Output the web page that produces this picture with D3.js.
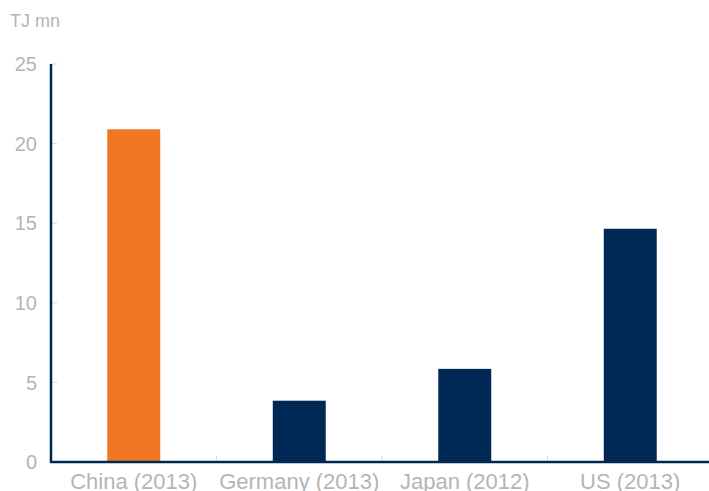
<!DOCTYPE html>
<html>
<head>
<meta charset="utf-8">
<script src="https://cdn.jsdelivr.net/npm/d3@7"></script>
<style>
  body { margin: 0; background: #fff; }
  text { font-family: "Liberation Sans", Arial, sans-serif; fill: #b5b5b5; }
</style>
</head>
<body>
<div id="chart"></div>
<script>
const categories = ['China (2013)', 'Germany (2013)', 'Japan (2012)', 'US (2013)'];
const values = [20.9, 3.85, 5.85, 14.65];
const yTicks = [0, 5, 10, 15, 20, 25];
const barColors = ['#ef7622', '#002855', '#002855', '#002855'];

const width = 709;
const height = 491;
const margin = {top: 64, right: -4, bottom: 29, left: 51};

const svg = d3.select('#chart')
    .append('svg')
        .attr('width', width)
        .attr('height', height);

const x = d3.scaleBand()
    .domain(categories)
    .range([margin.left, width - margin.right])
    .paddingInner(0.68)
    .paddingOuter(0.34);

const y = d3.scaleLinear()
    .domain([0, 25])
    .range([height - margin.bottom, margin.top]);

const step = x.step();

// light tick marks on y axis
svg.append('g')
    .selectAll('line')
    .data(yTicks)
    .join('line')
        .attr('x1', margin.left)
        .attr('x2', margin.left + 6)
        .attr('y1', d => y(d))
        .attr('y2', d => y(d))
        .attr('stroke', '#d9d9d9');

svg.append('g')
    .selectAll('text')
    .data(yTicks)
    .join('text')
        .attr('x', 37)
        .attr('y', d => y(d))
        .attr('dy', '0.36em')
        .attr('text-anchor', 'end')
        .attr('font-size', 20)
        .text(d => d);

// category boundary ticks
svg.append('g')
    .selectAll('line')
    .data(categories.slice(1))
    .join('line')
        .attr('x1', d => x(d) + x.bandwidth() / 2 - step / 2)
        .attr('x2', d => x(d) + x.bandwidth() / 2 - step / 2)
        .attr('y1', y(0))
        .attr('y2', y(0) - 6)
        .attr('stroke', '#d9d9d9');

svg.append('g')
    .selectAll('rect')
    .data(values)
    .join('rect')
        .attr('x', (d, i) => x(categories[i]))
        .attr('y', d => y(d))
        .attr('width', x.bandwidth())
        .attr('height', d => y(0) - y(d))
        .attr('fill', (d, i) => barColors[i]);

// axis lines
svg.append('line')
    .attr('x1', margin.left)
    .attr('x2', margin.left)
    .attr('y1', y(25))
    .attr('y2', y(0) + 1)
    .attr('stroke', '#002855')
    .attr('stroke-width', 2.5);

svg.append('line')
    .attr('x1', margin.left - 1)
    .attr('x2', width)
    .attr('y1', y(0))
    .attr('y2', y(0))
    .attr('stroke', '#002855')
    .attr('stroke-width', 2.5);

svg.append('g')
    .selectAll('text')
    .data(categories)
    .join('text')
        .attr('x', d => x(d) + x.bandwidth() / 2)
        .attr('y', 489)
        .attr('text-anchor', 'middle')
        .attr('font-size', 22)
        .text(d => d);

svg.append('text')
    .attr('x', 10)
    .attr('y', 27)
    .attr('font-size', 18)
    .text('TJ mn');
</script>
</body>
</html>
